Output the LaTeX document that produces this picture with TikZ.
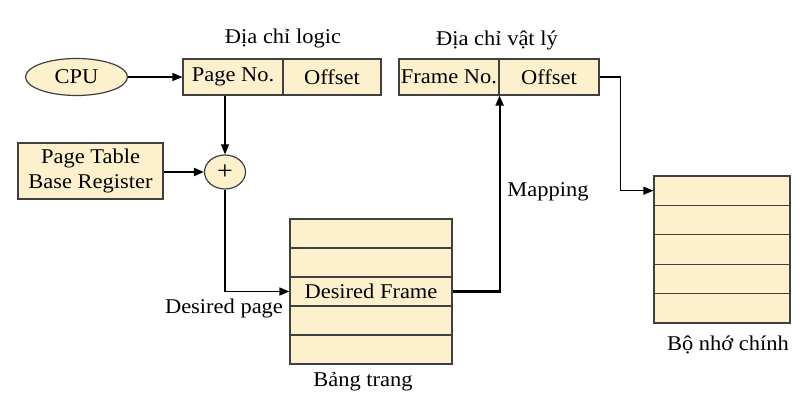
\documentclass[tikz,border=0pt]{standalone}
\usepackage{fontspec}
\setmainfont[FakeStretch=1.07]{Liberation Serif}
\usetikzlibrary{shapes.geometric,arrows.meta}
\definecolor{cream}{RGB}{253,240,205}
\begin{document}
\begin{tikzpicture}[x=0.5pt,y=-0.5pt,
    font=\fontsize{10.5}{12.5}\selectfont,
    cell/.style={draw=black!75,fill=cream,line width=0.6pt,inner sep=0pt,minimum height=18pt},
    row/.style={draw=black!75,fill=cream,line width=0.6pt,inner sep=0pt},
    link/.style={line width=0.6pt,-{Triangle[length=5pt,width=4pt]}},
    heavy/.style={link,line width=1.1pt}]
    \useasboundingbox (0,0) rectangle (803,416);
      \node[ellipse,cell,minimum width=51pt,minimum height=18.5pt] (cpu) at (76.5,77) {CPU};
      \node[cell,minimum width=50pt] (pageno) at (233,77) {Page No.};
      \node[cell,minimum width=49pt] (offL) at (332,77) {Offset};
      \node[cell,minimum width=50pt] (frameno) at (449,77) {Frame No.};
      \node[cell,minimum width=50pt] (offP) at (549,77) {Offset};
      \node[ellipse,cell,minimum width=20.5pt,minimum height=17pt,font=\fontsize{13}{13}\selectfont] (plus) at (225,172) {+};
      \node[cell,minimum width=72.5pt,minimum height=28pt,align=center] (ptbr) at (90.5,171) {Page Table\\Base Register};
      \foreach \i in {1,...,5}
        \node[row,minimum width=81pt,minimum height=14.5pt] (pt\i) at (371,{204.5+29*\i}) {};
      \foreach \i in {1,...,5}
        \node[row,minimum width=68pt,minimum height=14.7pt] (mem\i) at (722,{161.3+29.4*\i}) {};
      \node (frame) at (pt3) {Desired Frame};
      \node (logic) at (283,38) {Địa chỉ logic};
      \node (phys) at (497,40) {Địa chỉ vật lý};
      \node (map) at (548,192) {Mapping};
      \node (dpage) at (224,308) {Desired page};
      \node (tbl) at (363,382) {Bảng trang};
      \node (mem) at (728,345) {Bộ nhớ chính};
      \draw[link] (cpu) -- (pageno);
      \draw[link] (plus.north |- pageno.south) -- (plus);
      \draw[heavy] (ptbr.east |- plus.west) -- (plus);
      \draw[link] (plus) |- (pt3);
      \draw[heavy] (pt3.east) -| (frameno.south east);
      \draw[link] (offP.east) -- ++(21,0) |- (mem1);
    \end{tikzpicture}
\end{document}
